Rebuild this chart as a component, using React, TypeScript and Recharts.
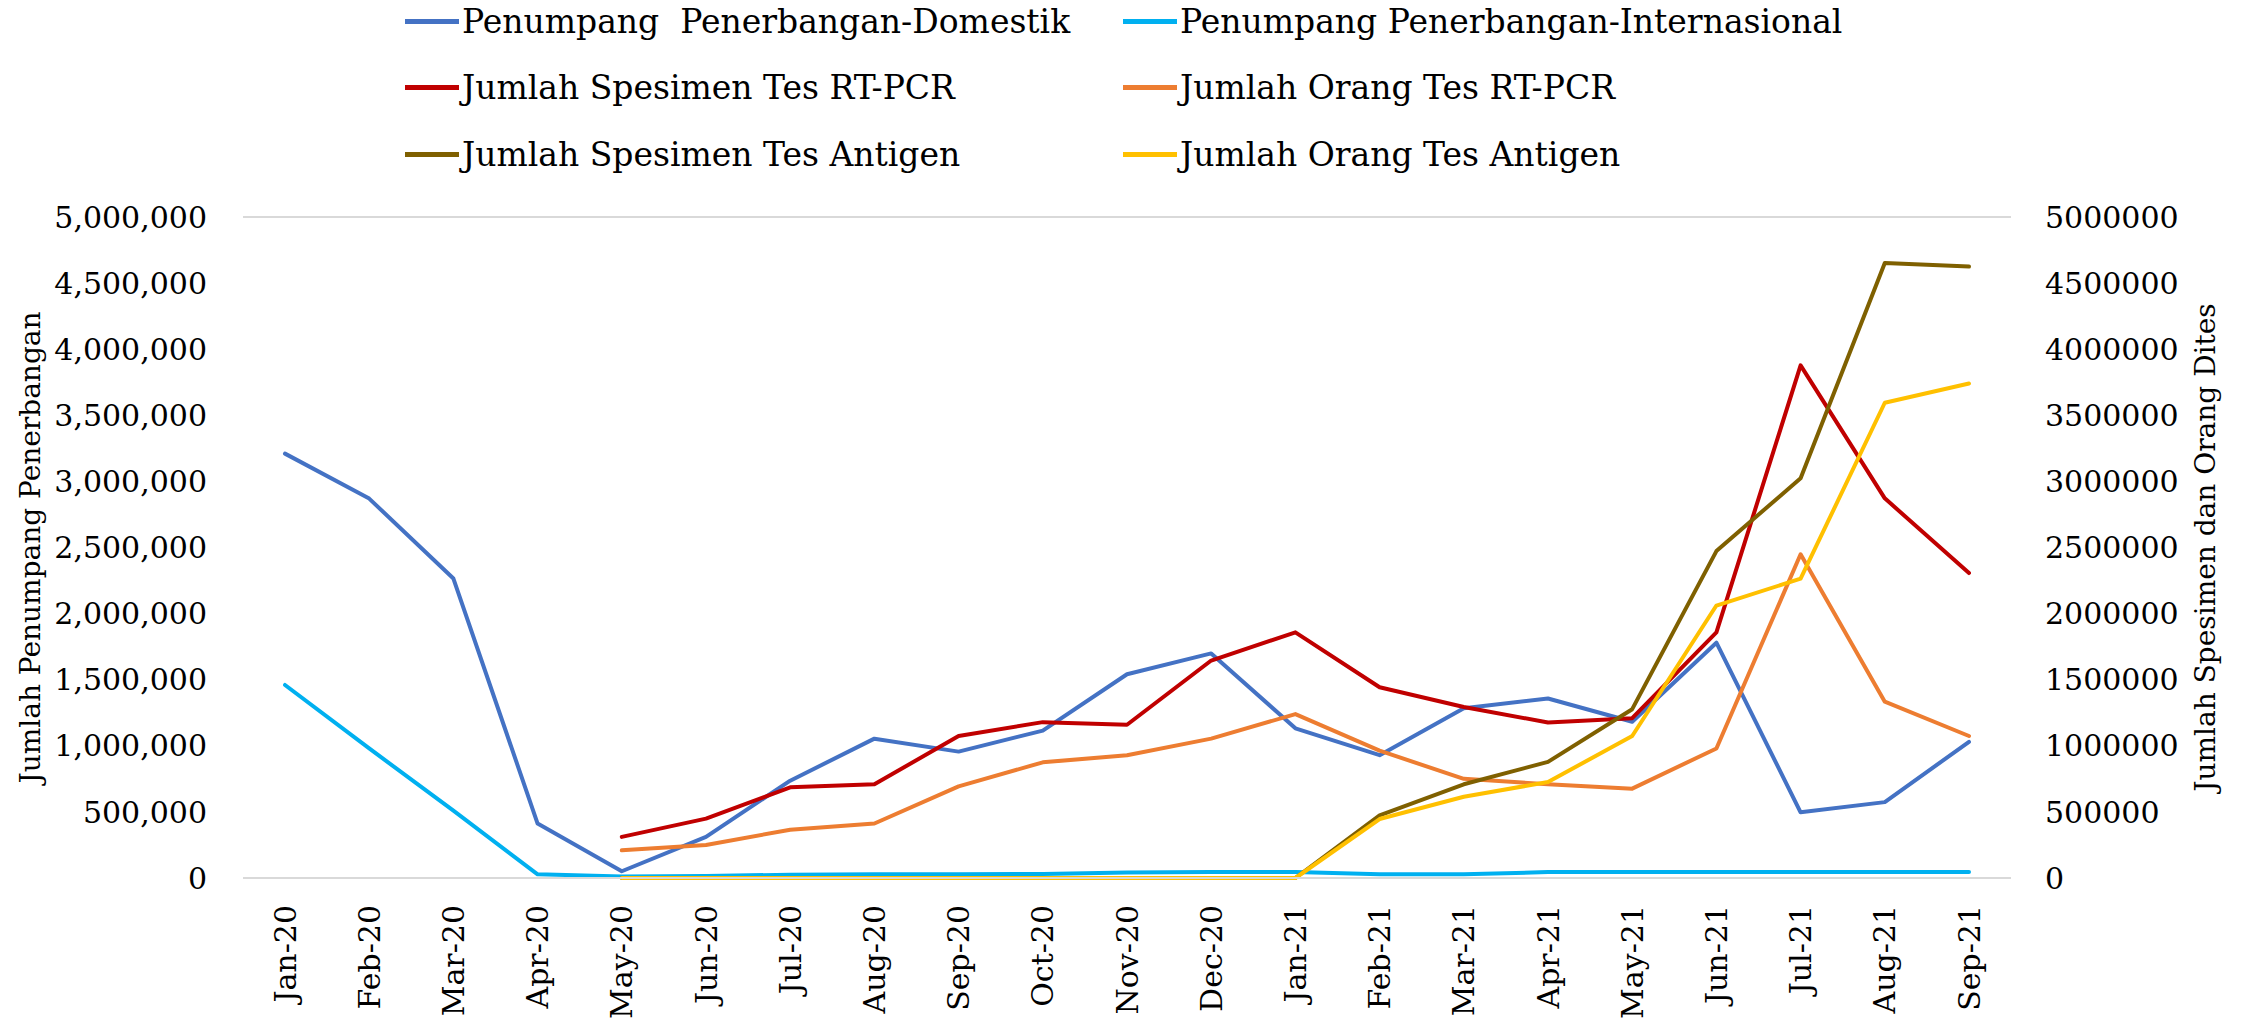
import React from 'react';
import { LineChart, Line, XAxis, YAxis, CartesianGrid, Label } from 'recharts';

const months = [
  'Jan-20', 'Feb-20', 'Mar-20', 'Apr-20', 'May-20', 'Jun-20', 'Jul-20', 'Aug-20', 'Sep-20', 'Oct-20',
  'Nov-20', 'Dec-20', 'Jan-21', 'Feb-21', 'Mar-21', 'Apr-21', 'May-21', 'Jun-21', 'Jul-21', 'Aug-21', 'Sep-21',
];

const domestik = [
  3210000, 2870000, 2265000, 412000, 51000, 311000, 736000, 1054000, 956000, 1115000,
  1541000, 1699000, 1132000, 929000, 1284000, 1358000, 1182000, 1780000, 497000, 574000, 1030000,
];
const internasional = [
  1460000, 980000, 510000, 28000, 12000, 15000, 25000, 28000, 28000, 30000,
  42000, 45000, 45000, 28000, 28000, 45000, 46000, 46000, 46000, 46000, 46000,
];
const spesimenPcr = [
  null, null, null, null, 311000, 449000, 686000, 709000, 1074000, 1179000,
  1159000, 1645000, 1858000, 1443000, 1294000, 1176000, 1209000, 1858000, 3878000, 2872000, 2307000,
];
const orangPcr = [
  null, null, null, null, 209000, 250000, 365000, 412000, 693000, 875000,
  929000, 1054000, 1240000, 963000, 750000, 709000, 676000, 980000, 2449000, 1334000, 1074000,
];
const spesimenAntigen = [
  null, null, null, null, 0, 0, 0, 0, 0, 0,
  0, 0, 0, 473000, 709000, 878000, 1277000, 2473000, 3024000, 4652000, 4625000,
];
const orangAntigen = [
  null, null, null, null, 0, 0, 0, 0, 0, 0,
  0, 0, 0, 446000, 615000, 726000, 1074000, 2061000, 2264000, 3595000, 3740000,
];

const yTicks = [0, 500000, 1000000, 1500000, 2000000, 2500000, 3000000, 3500000, 4000000, 4500000, 5000000];

const data = months.map((m, i) => ({
  month: m,
  domestik: domestik[i],
  internasional: internasional[i],
  spesimenPcr: spesimenPcr[i],
  orangPcr: orangPcr[i],
  spesimenAntigen: spesimenAntigen[i],
  orangAntigen: orangAntigen[i],
}));

const series = [
  { key: 'domestik', name: 'Penumpang  Penerbangan-Domestik', color: '#4472C4', axis: 'left' },
  { key: 'internasional', name: 'Penumpang Penerbangan-Internasional', color: '#00B0F0', axis: 'left' },
  { key: 'spesimenPcr', name: 'Jumlah Spesimen Tes RT-PCR', color: '#C00000', axis: 'right' },
  { key: 'orangPcr', name: 'Jumlah Orang Tes RT-PCR', color: '#ED7D31', axis: 'right' },
  { key: 'spesimenAntigen', name: 'Jumlah Spesimen Tes Antigen', color: '#7F6000', axis: 'right' },
  { key: 'orangAntigen', name: 'Jumlah Orang Tes Antigen', color: '#FFC000', axis: 'right' },
];

const FONT = '"DejaVu Serif", serif';

const XTick = (props: any) => {
  const { x, y, payload } = props;
  return (
    <text
      transform={`translate(${x},${y + 25}) rotate(-90)`}
      textAnchor="end"
      dominantBaseline="central"
      fontFamily={FONT}
      fontSize={30}
      fill="#000"
    >
      {payload.value}
    </text>
  );
};

const ChartLegend = () => (
  <div style={{ position: 'absolute', left: 0, top: 0, width: 2244, height: 190 }}>
    {series.map((s, i) => {
      const col = i % 2;
      const row = Math.floor(i / 2);
      const left = col === 0 ? 405 : 1123;
      const cy = 21 + row * 66.5;
      return (
        <div key={s.key} style={{ position: 'absolute', left, top: cy - 20, height: 40, display: 'flex', alignItems: 'center', whiteSpace: 'pre' }}>
          <span style={{ display: 'inline-block', width: 54, height: 5, background: s.color, marginRight: 3 }} />
          <span style={{ fontFamily: FONT, fontSize: 33, color: '#000' }}>{s.name}</span>
        </div>
      );
    })}
  </div>
);

export default function App() {
  return (
    <div style={{ position: 'absolute', left: 0, top: 0, width: 2244, height: 1029, background: '#fff' }}>
      <ChartLegend />
      <LineChart width={2244} height={1029} data={data} margin={{ top: 217, right: 0, bottom: 0, left: 0 }}>
        <CartesianGrid vertical={false} stroke="#D9D9D9" strokeWidth={2} />
        <XAxis
          dataKey="month"
          height={151}
          tick={<XTick />}
          tickLine={false}
          tickSize={0}
          axisLine={{ stroke: '#D9D9D9', strokeWidth: 2 }}
          interval={0}
          padding={{ left: 42, right: 42 }}
        />
        <YAxis
          yAxisId="left"
          width={243}
          domain={[0, 5000000]}
          ticks={yTicks}
          tickFormatter={(v: number) => v.toLocaleString('en-US')}
          axisLine={false}
          tickLine={false}
          tickSize={0}
          tickMargin={36}
          tick={{ fontFamily: FONT, fontSize: 30, fill: '#000' }}
        >
          <Label
            value="Jumlah Penumpang Penerbangan"
            angle={-90}
            position="insideLeft"
            offset={30}
            style={{ textAnchor: 'middle', fontFamily: FONT, fontSize: 28, fill: '#000' }}
          />
        </YAxis>
        <YAxis
          yAxisId="right"
          orientation="right"
          width={233}
          domain={[0, 5000000]}
          ticks={yTicks}
          axisLine={false}
          tickLine={false}
          tickSize={0}
          tickMargin={34}
          tick={{ fontFamily: FONT, fontSize: 30, fill: '#000', textAnchor: 'start' }}
        >
          <Label
            value="Jumlah Spesimen dan Orang Dites"
            angle={-90}
            position="insideRight"
            offset={39}
            style={{ textAnchor: 'middle', fontFamily: FONT, fontSize: 28, fill: '#000' }}
          />
        </YAxis>
        {series.map((s) => (
          <Line
            key={s.key}
            yAxisId={s.axis}
            dataKey={s.key}
            name={s.name}
            stroke={s.color}
            strokeWidth={4}
            dot={false}
            activeDot={false}
            isAnimationActive={false}
            strokeLinecap="round"
            strokeLinejoin="round"
          />
        ))}
      </LineChart>
    </div>
  );
}
